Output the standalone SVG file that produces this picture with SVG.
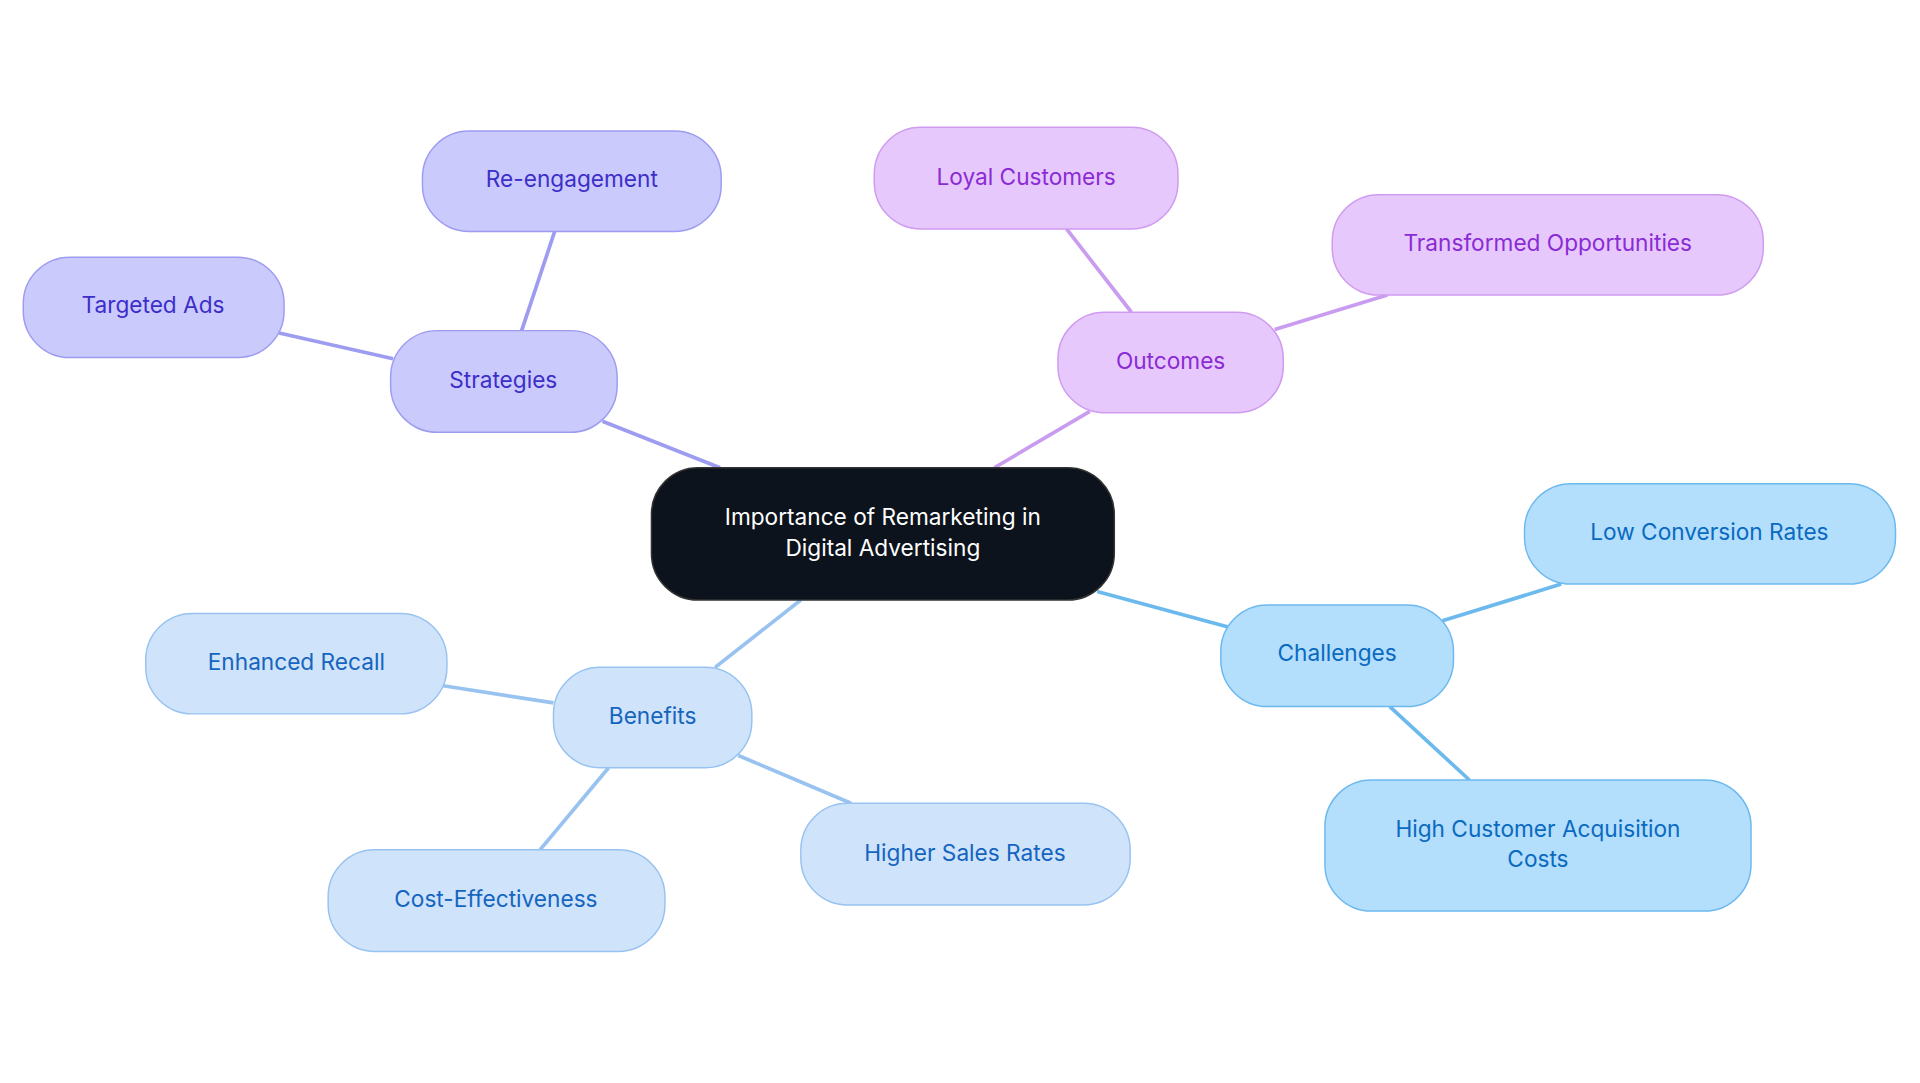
<svg xmlns="http://www.w3.org/2000/svg" width="1920" height="1083" viewBox="0 0 1920 1083">
<style>
text{font-family:Inter,"Noto Sans","Liberation Sans",sans-serif;font-size:18.5px;text-anchor:middle;dominant-baseline:central}
.e{stroke-width:3;fill:none}
.s rect{fill:#cbcafc;stroke:#9d9cf0}.s text{fill:#3c2fc9}
.o rect{fill:#e7c8fc;stroke:#cf9bf0}.o text{fill:#8a2bd4}
.c rect{fill:#b3defc;stroke:#6cb9ee}.c text{fill:#0a6ac0}
.b rect{fill:#cfe3fb;stroke:#98c3f0}.b text{fill:#1565c0}
rect{stroke-width:1.2}
</style>
<rect width="1920" height="1083" fill="#fff"/>
<g transform="scale(1.2245)">
<g id="connectors">
<g stroke="#9d9cf0" class="e"><line x1="588" y1="382" x2="492" y2="344"/><line x1="426" y1="270" x2="453" y2="189"/><line x1="321" y1="293" x2="228" y2="272"/></g>
<g stroke="#c99cf0" class="e"><line x1="812" y1="382" x2="890" y2="336"/><line x1="924" y1="255" x2="871" y2="187"/><line x1="1041" y1="269" x2="1133" y2="241"/></g>
<g stroke="#6cb9ee" class="e"><line x1="896" y1="483" x2="1003" y2="512"/><line x1="1178" y1="507" x2="1275" y2="477"/><line x1="1135" y1="577" x2="1200" y2="637"/></g>
<g stroke="#98c3f0" class="e"><line x1="654" y1="490" x2="584" y2="545"/><line x1="452" y1="574" x2="362" y2="560"/><line x1="497" y1="627" x2="441" y2="694"/><line x1="603" y1="617" x2="695" y2="656"/></g>
</g>
<g id="center"><rect x="532" y="382" width="378" height="108" rx="38" fill="#0d131c" stroke="#333"/><text x="721" y="422" fill="#fff">Importance of Remarketing in</text><text x="721" y="447" fill="#fff">Digital Advertising</text></g>
<g id="strategies" class="s"><rect x="319" y="270" width="185" height="83" rx="38"/><text x="411" y="310">Strategies</text></g>
<g id="reengagement" class="s"><rect x="345" y="107" width="244" height="82" rx="38"/><text x="467" y="146">Re-engagement</text></g>
<g id="targeted" class="s"><rect x="19" y="210" width="213" height="82" rx="38"/><text x="125" y="249">Targeted Ads</text></g>
<g id="outcomes" class="o"><rect x="864" y="255" width="184" height="82" rx="38"/><text x="956" y="294">Outcomes</text></g>
<g id="loyal" class="o"><rect x="714" y="104" width="248" height="83" rx="38"/><text x="838" y="144">Loyal Customers</text></g>
<g id="transformed" class="o"><rect x="1088" y="159" width="352" height="82" rx="38"/><text x="1264" y="198">Transformed Opportunities</text></g>
<g id="challenges" class="c"><rect x="997" y="494" width="190" height="83" rx="38"/><text x="1092" y="533">Challenges</text></g>
<g id="lowconv" class="c"><rect x="1245" y="395" width="303" height="82" rx="38"/><text x="1396" y="434">Low Conversion Rates</text></g>
<g id="highcac" class="c"><rect x="1082" y="637" width="348" height="107" rx="38"/><text x="1256" y="677">High Customer Acquisition</text><text x="1256" y="701">Costs</text></g>
<g id="benefits" class="b"><rect x="452" y="545" width="162" height="82" rx="38"/><text x="533" y="584">Benefits</text></g>
<g id="recall" class="b"><rect x="119" y="501" width="246" height="82" rx="38"/><text x="242" y="540">Enhanced Recall</text></g>
<g id="cost" class="b"><rect x="268" y="694" width="275" height="83" rx="38"/><text x="405" y="734">Cost-Effectiveness</text></g>
<g id="sales" class="b"><rect x="654" y="656" width="269" height="83" rx="38"/><text x="788" y="696">Higher Sales Rates</text></g>
</g>
</svg>
